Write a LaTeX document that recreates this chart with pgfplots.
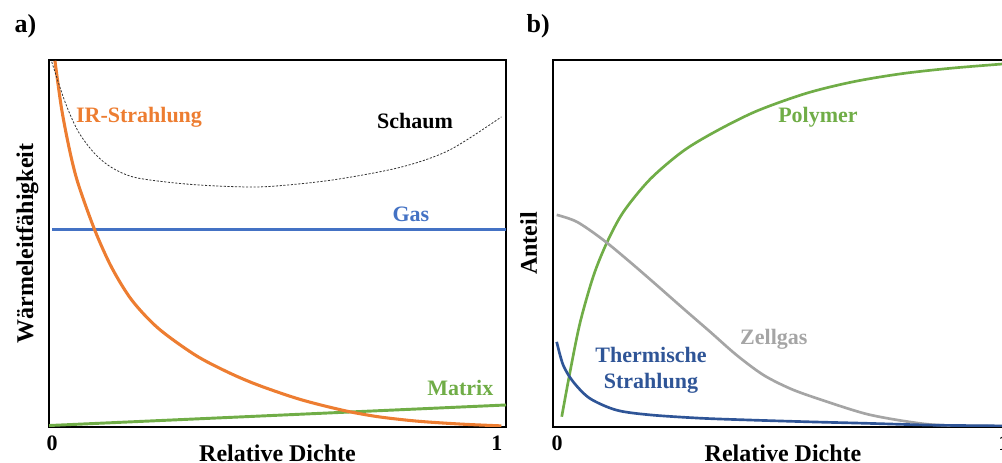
\documentclass[border=0pt]{standalone}
\usepackage{fontspec}
\setmainfont{Liberation Serif}
\usepackage{pgfplots}
\pgfplotsset{compat=1.18}
\definecolor{cOr}{HTML}{ED7D31}
\definecolor{cBl}{HTML}{4472C4}
\definecolor{cGr}{HTML}{70AD47}
\definecolor{cGy}{HTML}{A5A5A5}
\definecolor{cDb}{HTML}{2F5597}
\newcommand{\lblfont}{\fontsize{16.5}{19.5}\selectfont\bfseries}
\newcommand{\axfont}{\fontsize{18}{21}\selectfont\bfseries}
\pgfplotsset{myax/.style={
  scale only axis, height=275.25pt,
  xmin=0, xmax=1, ymin=0, ymax=1,
  ytick=\empty, major tick length=0pt,
  axis line style={line width=1.3pt},
  /pgf/number format/assume math mode=true,
  xticklabel style={font=\fontsize{16.5}{19}\selectfont\bfseries, anchor=center, yshift=-12pt},
  xlabel style={font=\axfont, at={(axis description cs:0.5,0)}, anchor=base, yshift=-25.6pt},
  ylabel style={font=\axfont, at={(axis description cs:-0.035,0.5)}, anchor=base},
  every axis plot/.append style={smooth, tension=0.5},
  clip=true,
}}
\begin{document}
\begin{tikzpicture}[x=1pt,y=1pt]
% ---------- a)
\begin{axis}[myax, at={(36.75pt,27pt)}, anchor=south west, width=342.75pt,
  xtick={0.0066,0.98}, xticklabels={0,1},
  xlabel={Relative Dichte}, ylabel={Wärmeleitfähigkeit}]
\addplot[cBl, line width=2.2pt, sharp plot] coordinates {(0.007,0.537) (1,0.537)};
\addplot[cGr, line width=2.2pt, sharp plot] coordinates {(0,0.004) (1,0.06)};
\addplot[cOr, line width=2.3pt] coordinates {
(0.013,0.998) (0.0277,0.866) (0.046,0.749) (0.064,0.662) (0.1,0.537) (0.137,0.435)
(0.181,0.346) (0.239,0.269) (0.32,0.196) (0.392,0.149) (0.458,0.114) (0.55,0.075)
(0.645,0.045) (0.72,0.028) (0.805,0.016) (0.9,0.008) (0.99,0.003)};
\addplot[black!80, line width=0.6pt, dash pattern=on 1.6pt off 1.2pt] coordinates {
(0.006,0.995) (0.035,0.886) (0.064,0.805) (0.1,0.745) (0.137,0.707) (0.188,0.68)
(0.283,0.664) (0.38,0.656) (0.477,0.655) (0.62,0.673) (0.77,0.708) (0.877,0.755) (0.99,0.845)};
\node[cOr, font=\lblfont] at (axis cs:0.197,0.845) {IR-Strahlung};
\node[black, font=\lblfont] at (axis cs:0.801,0.834) {Schaum};
\node[cBl, font=\lblfont] at (axis cs:0.792,0.58) {Gas};
\node[cGr, font=\lblfont] at (axis cs:0.90,0.106) {Matrix};
\end{axis}
% ---------- b)
\begin{axis}[myax, at={(414.75pt,27pt)}, anchor=south west, width=345pt,
  xtick={0.009,0.98}, xticklabels={0,1},
  xlabel={Relative Dichte}, ylabel={Anteil}]
\addplot[cGr, line width=2pt] coordinates {
(0.019,0.028) (0.037,0.15) (0.059,0.285) (0.088,0.412) (0.117,0.502) (0.153,0.586)
(0.211,0.675) (0.283,0.752) (0.356,0.807) (0.443,0.861) (0.55,0.909) (0.65,0.94)
(0.754,0.962) (0.86,0.977) (0.976,0.989) (1,0.991)};
\addplot[cGy, line width=2pt] coordinates {
(0.008,0.578) (0.052,0.559) (0.109,0.51) (0.167,0.45) (0.225,0.387) (0.283,0.323)
(0.341,0.26) (0.399,0.196) (0.457,0.142) (0.515,0.105) (0.574,0.078) (0.683,0.035)
(0.791,0.011) (0.863,0.004) (1,0.002)};
\addplot[cDb, line width=2pt] coordinates {
(0.008,0.232) (0.022,0.169) (0.044,0.123) (0.08,0.078) (0.138,0.046) (0.211,0.033)
(0.32,0.024) (0.428,0.019) (0.559,0.014) (0.683,0.010) (0.826,0.005) (0.976,0.003) (1,0.003)};
\node[cGr, font=\lblfont] at (axis cs:0.576,0.845) {Polymer};
\node[cGy, font=\lblfont] at (axis cs:0.48,0.24) {Zellgas};
\node[cDb, font=\lblfont, align=center] at (axis cs:0.213,0.155) {Thermische\\Strahlung};
\end{axis}
\node[anchor=base west, font=\fontsize{19.5}{22}\selectfont\bfseries] at (7.5pt,322.5pt) {a)};
\node[anchor=base west, font=\fontsize{19.5}{22}\selectfont\bfseries] at (391.5pt,322.5pt) {b)};
\pgfresetboundingbox
\path[use as bounding box] (0,0) rectangle (751.5pt,347.25pt);
\end{tikzpicture}
\end{document}
